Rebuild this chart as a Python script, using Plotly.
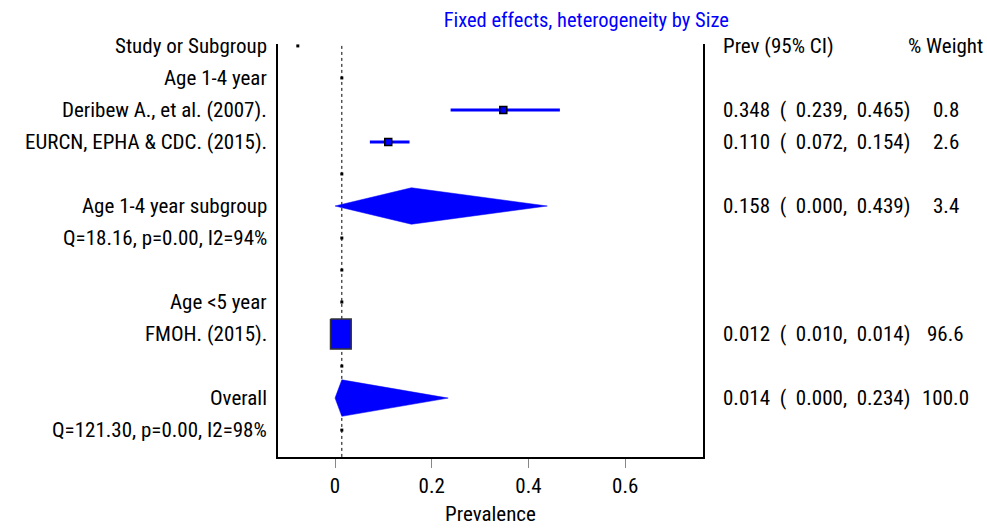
import plotly.graph_objects as go

# ---------------- data ----------------
row_labels = ["Study or Subgroup", "Age 1-4 year", "Deribew A., et al. (2007).",
              "EURCN, EPHA & CDC. (2015).", "", "Age 1-4 year subgroup",
              "Q=18.16, p=0.00, I2=94%", "", "Age <5 year", "FMOH. (2015).", "",
              "Overall", "Q=121.30, p=0.00, I2=98%"]

study_rows = [2, 3]
study_est = [0.348, 0.110]
study_lo = [0.239, 0.072]
study_hi = [0.465, 0.154]
study_w = [0.8, 2.6]

big_rows = [9]
big_est = [0.012]
big_lo = [0.010]
big_hi = [0.014]
big_w = [96.6]

diamond_rows = [5, 11]
diamond_est = [0.158, 0.014]
diamond_lo = [0.000, 0.000]
diamond_hi = [0.439, 0.234]
diamond_w = [3.4, 100.0]

overall_est = 0.014
dot_rows = [1, 4, 6, 7, 8, 10, 12]
header_dot_x = [-0.077]
header_dot_row = [0]

x_ticks = [0, 0.2, 0.4, 0.6]
x_ticktext = ["0", "0.2", "0.4", "0.6"]

# ---------------- style ----------------
FONT = "Roboto Condensed, Liberation Sans, sans-serif"
FS = 21
BLUE = "#0000FF"
X_RANGE = [-0.118, 0.761]
Y_RANGE = [12.84, -0.06]
BOX_HALF_W = 0.0214
BOX_HALF_H = 0.47
DIA_HALF_H = 0.57

fig = go.Figure()

# reference dotted line at overall estimate
fig.add_trace(go.Scatter(x=[overall_est, overall_est], y=[0, Y_RANGE[0]],
                         mode="lines", line=dict(color="black", width=1, dash="dot"),
                         hoverinfo="skip", showlegend=False))

# small dots on label rows
fig.add_trace(go.Scatter(x=[overall_est] * len(dot_rows), y=dot_rows, mode="markers",
                         marker=dict(symbol="square", size=3, color="black"),
                         showlegend=False))
fig.add_trace(go.Scatter(x=header_dot_x, y=header_dot_row, mode="markers",
                         marker=dict(symbol="square", size=3, color="black"),
                         showlegend=False))

# study CIs and points
for r, e, lo, hi in zip(study_rows, study_est, study_lo, study_hi):
    fig.add_trace(go.Scatter(x=[lo, hi], y=[r, r], mode="lines",
                             line=dict(color=BLUE, width=3), showlegend=False))
    fig.add_trace(go.Scatter(x=[e], y=[r], mode="markers",
                             marker=dict(symbol="square", size=7, color=BLUE,
                                         line=dict(color="black", width=1.5)),
                             showlegend=False))

# big study box
for r, e in zip(big_rows, big_est):
    fig.add_trace(go.Scatter(
        x=[e - BOX_HALF_W, e + BOX_HALF_W, e + BOX_HALF_W, e - BOX_HALF_W, e - BOX_HALF_W],
        y=[r - BOX_HALF_H, r - BOX_HALF_H, r + BOX_HALF_H, r + BOX_HALF_H, r - BOX_HALF_H],
        mode="lines", fill="toself", fillcolor=BLUE,
        line=dict(color="#333333", width=1.5), showlegend=False))

# diamonds
for r, e, lo, hi in zip(diamond_rows, diamond_est, diamond_lo, diamond_hi):
    fig.add_trace(go.Scatter(
        x=[lo, e, hi, e, lo],
        y=[r, r - DIA_HALF_H, r, r + DIA_HALF_H, r],
        mode="lines", fill="toself", fillcolor=BLUE,
        line=dict(color=BLUE, width=0.5), showlegend=False))

# ---------------- annotations ----------------
NB = "\u00a0"
ann = []
for i, lab in enumerate(row_labels):
    if lab:
        ann.append(dict(x=-0.021, xref="paper", y=i, yref="y", text=lab,
                        xanchor="right", yanchor="middle", showarrow=False))

ann.append(dict(x=1.042, xref="paper", y=0, yref="y", text="Prev (95% CI)",
                xanchor="left", yanchor="middle", showarrow=False))
ann.append(dict(x=1.571, xref="paper", y=0, yref="y", text="% Weight",
                xanchor="center", yanchor="middle", showarrow=False))

all_rows = study_rows + big_rows + diamond_rows
all_est = study_est + big_est + diamond_est
all_lo = study_lo + big_lo + diamond_lo
all_hi = study_hi + big_hi + diamond_hi
all_w = study_w + big_w + diamond_w
for r, e, lo, hi, w in zip(all_rows, all_est, all_lo, all_hi, all_w):
    txt = f"{e:.3f}{NB}{NB}({NB}{NB}{lo:.3f},{NB}{NB}{hi:.3f})"
    ann.append(dict(x=1.042, xref="paper", y=r, yref="y", text=txt,
                    xanchor="left", yanchor="middle", showarrow=False))
    ann.append(dict(x=1.571, xref="paper", y=r, yref="y", text=f"{w:.1f}",
                    xanchor="center", yanchor="middle", showarrow=False))

fig.update_layout(
    width=987, height=528,
    margin=dict(l=278, r=284, t=44, b=71),
    paper_bgcolor="white", plot_bgcolor="white",
    font=dict(family=FONT, size=FS, color="black"),
    title=dict(text="Fixed effects, heterogeneity by Size", x=0.594, xanchor="center",
               y=0.962, yanchor="middle", font=dict(family=FONT, size=20.5, color=BLUE)),
    annotations=ann,
    showlegend=False,
    xaxis=dict(range=X_RANGE, tickvals=x_ticks, ticktext=x_ticktext,
               ticks="outside", ticklen=9, tickcolor="#888888", tickwidth=1,
               showgrid=False, zeroline=False, showline=True, linecolor="black",
               linewidth=2, mirror=False, automargin=False,
               title=dict(text="Prevalence", standoff=9, font=dict(size=FS)),
               tickfont=dict(size=FS)),
    yaxis=dict(range=Y_RANGE, showticklabels=False, ticks="", showgrid=False,
               zeroline=False, showline=True, linecolor="black", linewidth=2,
               mirror=True, automargin=False),
)

fig.write_html("out.html")
